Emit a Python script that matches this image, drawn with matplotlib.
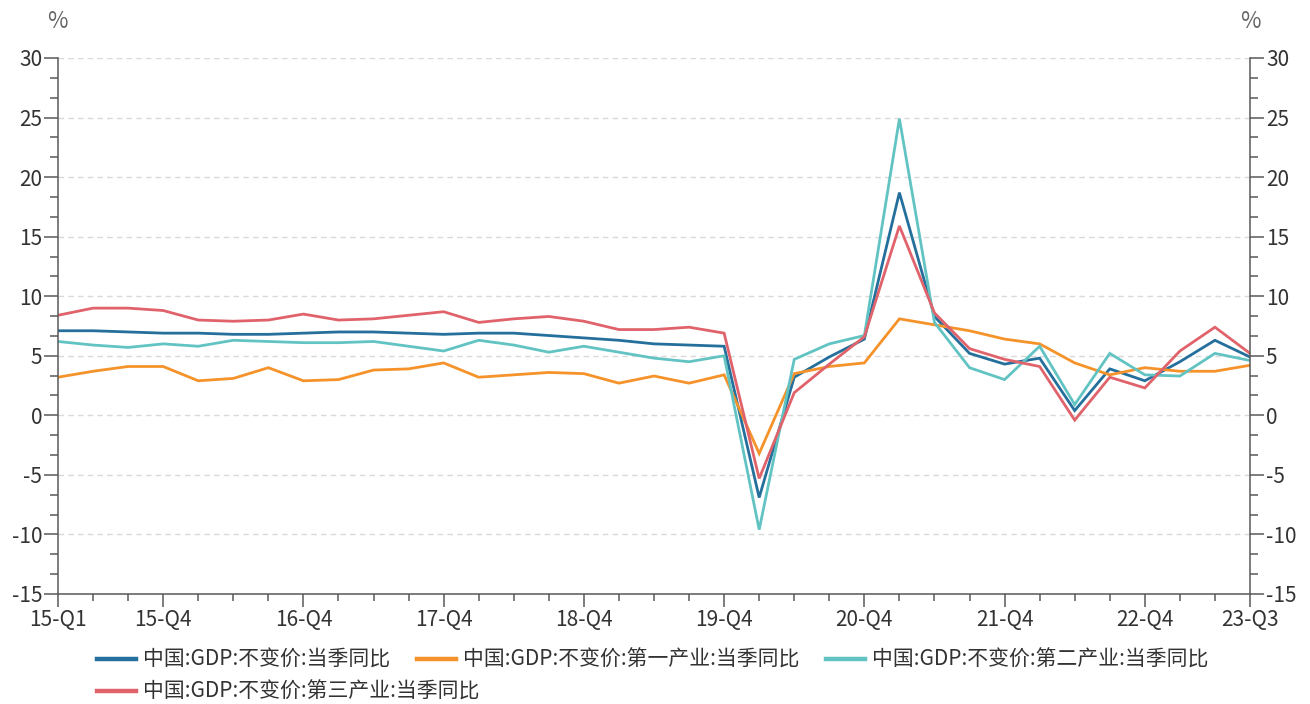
import matplotlib
matplotlib.use("Agg")
import matplotlib.pyplot as plt
from matplotlib.ticker import MultipleLocator, FixedLocator

plt.rcParams["font.family"] = ["Noto Sans CJK SC", "DejaVu Sans"]
plt.rcParams["axes.unicode_minus"] = False

# ── Data ──────────────────────────────────────────────────────────────────────
quarters = [f"{y}-Q{q}" for y in range(15, 24) for q in range(1, 5)][:35]
tick_labels = ["15-Q1", "15-Q4", "16-Q4", "17-Q4", "18-Q4", "19-Q4",
               "20-Q4", "21-Q4", "22-Q4", "23-Q3"]

gdp = [7.1, 7.1, 7.0, 6.9, 6.9, 6.8, 6.8, 6.9, 7.0, 7.0, 6.9, 6.8,
       6.9, 6.9, 6.7, 6.5, 6.3, 6.0, 5.9, 5.8, -6.9, 3.2, 4.9, 6.4,
       18.7, 8.3, 5.2, 4.3, 4.8, 0.4, 3.9, 2.9, 4.5, 6.3, 4.9]
primary = [3.2, 3.7, 4.1, 4.1, 2.9, 3.1, 4.0, 2.9, 3.0, 3.8, 3.9, 4.4,
           3.2, 3.4, 3.6, 3.5, 2.7, 3.3, 2.7, 3.4, -3.2, 3.5, 4.1, 4.4,
           8.1, 7.6, 7.1, 6.4, 6.0, 4.4, 3.4, 4.0, 3.7, 3.7, 4.2]
secondary = [6.2, 5.9, 5.7, 6.0, 5.8, 6.3, 6.2, 6.1, 6.1, 6.2, 5.8, 5.4,
             6.3, 5.9, 5.3, 5.8, 5.3, 4.8, 4.5, 5.0, -9.6, 4.7, 6.0, 6.7,
             24.9, 7.8, 4.0, 3.0, 5.8, 0.9, 5.2, 3.4, 3.3, 5.2, 4.6]
tertiary = [8.4, 9.0, 9.0, 8.8, 8.0, 7.9, 8.0, 8.5, 8.0, 8.1, 8.4, 8.7,
            7.8, 8.1, 8.3, 7.9, 7.2, 7.2, 7.4, 6.9, -5.3, 1.9, 4.3, 6.6,
            15.9, 8.6, 5.6, 4.7, 4.1, -0.4, 3.2, 2.3, 5.4, 7.4, 5.2]

names = ["中国:GDP:不变价:当季同比",
         "中国:GDP:不变价:第一产业:当季同比",
         "中国:GDP:不变价:第二产业:当季同比",
         "中国:GDP:不变价:第三产业:当季同比"]

# ── Style ─────────────────────────────────────────────────────────────────────
COLORS = ["#246f9c", "#f5922a", "#62c3c3", "#e0636c"]
AXIS_C = "#595959"
TEXT_C = "#333333"

fig = plt.figure(figsize=(13.1, 7.04), dpi=100)
ax = fig.add_axes([58 / 1310, 1 - 594 / 704, (1250 - 58) / 1310, (594 - 58) / 704])

x = list(range(len(quarters)))
handles = []
for series, c, name in zip([gdp, primary, secondary, tertiary], COLORS, names):
    h, = ax.plot(x, series, color=c, lw=2.0, label=name, solid_joinstyle="miter")
    handles.append(h)

ax.set_xlim(0, len(quarters) - 1)
ax.set_ylim(-15, 30)

# x axis: every quarter a minor tick, labelled quarters major
ax.xaxis.set_major_locator(FixedLocator([quarters.index(t) for t in tick_labels]))
ax.set_xticklabels(tick_labels)
ax.xaxis.set_minor_locator(MultipleLocator(1))

# y axis on both sides
ax.yaxis.set_major_locator(MultipleLocator(5))
ax.yaxis.set_minor_locator(MultipleLocator(5 / 3))
ax.yaxis.set_ticks_position("both")
ax.tick_params(axis="y", which="both", labelleft=True, labelright=True)

ax.tick_params(axis="both", which="major", direction="out", length=10,
               width=1.1, color=AXIS_C, labelsize=15, labelcolor=TEXT_C, pad=1.5)
ax.tick_params(axis="both", which="minor", direction="out", length=6,
               width=1.1, color=AXIS_C)
ax.tick_params(axis="x", which="major", length=9, pad=1.5)
ax.tick_params(axis="x", which="minor", length=5)

for side in ("left", "right", "bottom"):
    ax.spines[side].set_color(AXIS_C)
    ax.spines[side].set_linewidth(1.1)
ax.spines["top"].set_visible(False)

ax.yaxis.grid(True, which="major", ls=(0, (4, 3)), color="#d9d9d9", lw=1)
ax.set_axisbelow(True)

fig.text(57 / 1310, 1 - 22 / 704, "%", ha="center", va="center",
         fontsize=16, color="#666666")
fig.text(1250 / 1310, 1 - 22 / 704, "%", ha="center", va="center",
         fontsize=16, color="#666666")

# legend: flowing rows like the original
leg_kw = dict(frameon=False, fontsize=15, handlelength=1.85, handletextpad=0.35,
              columnspacing=1.3, borderpad=0, borderaxespad=0, labelcolor=TEXT_C)
leg1 = fig.legend(handles=handles[:3], ncol=3, loc="center left",
                  bbox_to_anchor=(97 / 1310, 1 - 660 / 704), **leg_kw)
leg2 = fig.legend(handles=handles[3:], ncol=1, loc="center left",
                  bbox_to_anchor=(97 / 1310, 1 - 692 / 704), **leg_kw)
for leg in (leg1, leg2):
    for lh in leg.legend_handles:
        lh.set_linewidth(3.2)

fig.savefig("out.png", dpi=100)
